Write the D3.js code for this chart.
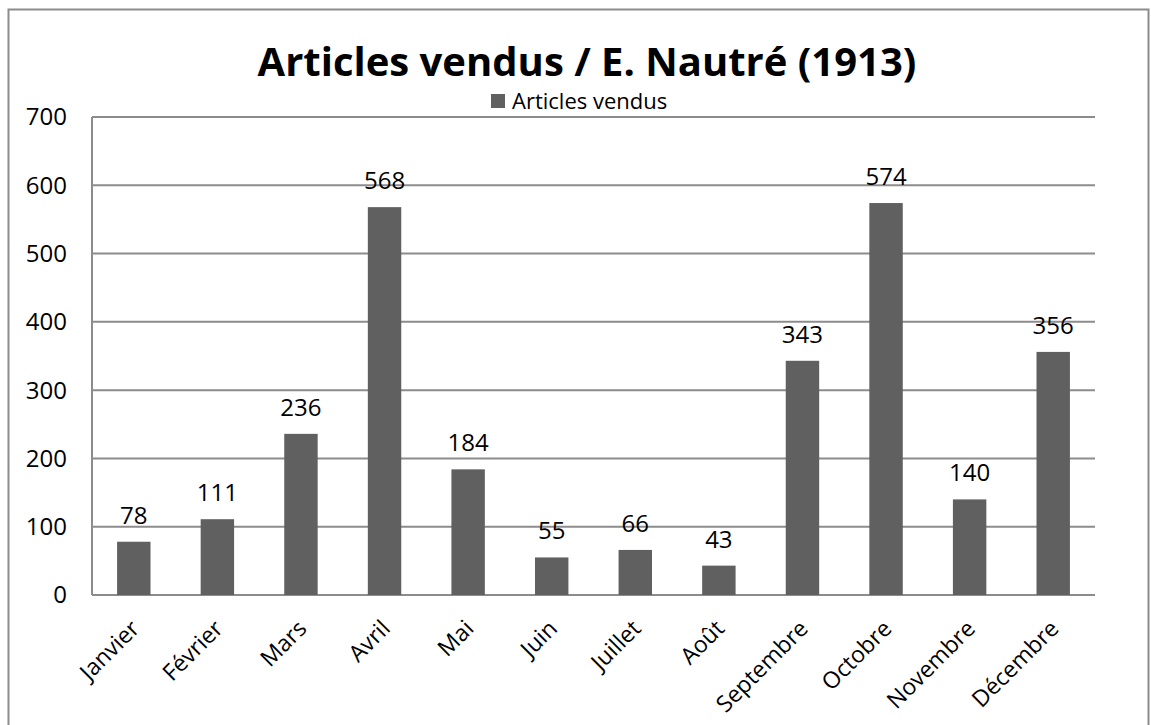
<!DOCTYPE html>
<html>
<head>
<meta charset="utf-8">
<script src="https://cdn.jsdelivr.net/npm/d3@7"></script>
<style>
  body { margin: 0; background: #fff; }
  text { font-family: "Open Sans", sans-serif; fill: #000; }
</style>
</head>
<body>
<svg id="chart"></svg>
<script>
// data
const months = ["Janvier", "Février", "Mars", "Avril", "Mai", "Juin", "Juillet", "Août", "Septembre", "Octobre", "Novembre", "Décembre"];
const sold = [78, 111, 236, 568, 184, 55, 66, 43, 343, 574, 140, 356];
const yTicks = [0, 100, 200, 300, 400, 500, 600, 700];
const seriesName = "Articles vendus";
const titleText = "Articles vendus / E. Nautré (1913)";

const W = 1151, H = 725;
const margin = { top: 117, right: 56, bottom: 130, left: 92 };
const barColor = "#606060";
const gridColor = "#8c8c8c";

const svg = d3.select("#chart").attr("width", W).attr("height", H);

// outer frame
svg.append("rect")
  .attr("x", 8.5).attr("y", 9.5)
  .attr("width", 1140).attr("height", 730)
  .attr("fill", "none")
  .attr("stroke", gridColor)
  .attr("stroke-width", 2);

const x = d3.scaleBand()
  .domain(months)
  .range([margin.left, W - margin.right])
  .paddingInner(0.6)
  .paddingOuter(0.3);

const y = d3.scaleLinear()
  .domain([0, 700])
  .range([H - margin.bottom, margin.top]);

// gridlines
svg.append("g")
  .selectAll("line")
  .data(yTicks)
  .join("line")
    .attr("x1", margin.left)
    .attr("x2", W - margin.right)
    .attr("y1", d => y(d))
    .attr("y2", d => y(d))
    .attr("stroke", gridColor)
    .attr("stroke-width", 2);

// y axis line
svg.append("line")
  .attr("x1", margin.left).attr("x2", margin.left)
  .attr("y1", y(0)).attr("y2", y(700))
  .attr("stroke", gridColor)
  .attr("stroke-width", 2);

// y tick labels
svg.append("g")
  .selectAll("text")
  .data(yTicks)
  .join("text")
    .attr("x", margin.left - 25)
    .attr("y", d => y(d))
    .attr("dy", "0.35em")
    .attr("text-anchor", "end")
    .style("font-size", "24px")
    .text(d => d);

// bars
svg.append("g")
  .selectAll("rect")
  .data(sold)
  .join("rect")
    .attr("x", (d, i) => x(months[i]))
    .attr("y", d => y(d))
    .attr("width", x.bandwidth())
    .attr("height", d => y(0) - y(d))
    .attr("fill", barColor);

// value labels
svg.append("g")
  .selectAll("text")
  .data(sold)
  .join("text")
    .attr("x", (d, i) => x(months[i]) + x.bandwidth() / 2)
    .attr("y", d => y(d) - 18)
    .attr("text-anchor", "middle")
    .style("font-size", "24px")
    .text(d => d);

// month labels, rotated
svg.append("g")
  .selectAll("text")
  .data(months)
  .join("text")
    .attr("transform", d => `translate(${x(d) + x.bandwidth() / 2 + 7},${y(0) + 35}) rotate(-45)`)
    .attr("text-anchor", "end")
    .style("font-size", "23px")
    .text(d => d);

// title
svg.append("text")
  .attr("x", 587)
  .attr("y", 76)
  .attr("text-anchor", "middle")
  .style("font-size", "40px")
  .style("font-weight", "bold")
  .text(titleText);

// legend
const legend = svg.append("g").attr("transform", "translate(491,94)");
legend.append("rect")
  .attr("width", 14).attr("height", 14)
  .attr("fill", barColor);
legend.append("text")
  .attr("x", 21).attr("y", 15)
  .style("font-size", "22px")
  .text(seriesName);
</script>
</body>
</html>
